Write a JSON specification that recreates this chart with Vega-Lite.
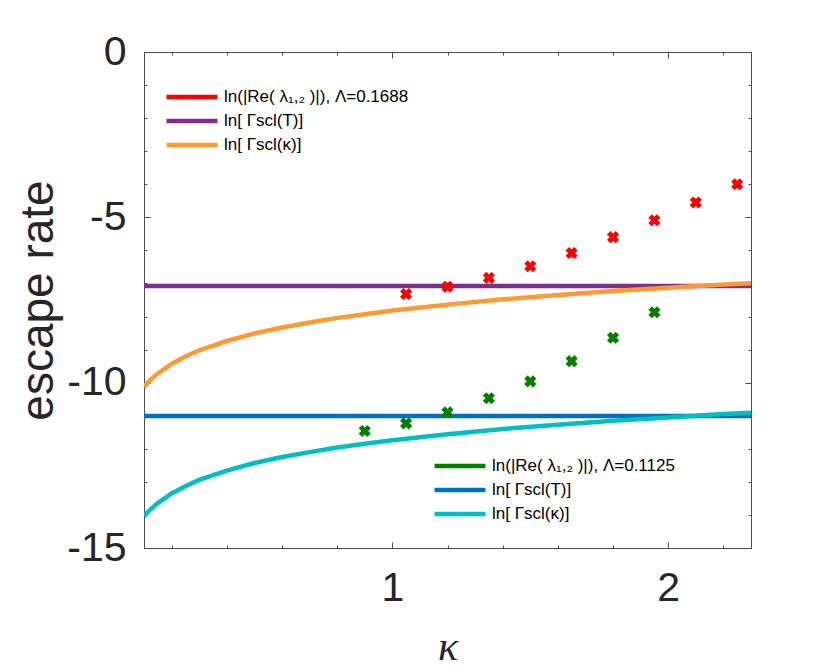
{
  "$schema": "https://vega.github.io/schema/vega-lite/v6.json",
  "width": 607,
  "height": 496,
  "autosize": {"type": "none"},
  "padding": {"left": 144, "top": 52, "right": 79, "bottom": 124},
  "config": {
    "view": {"stroke": "#4d4d4d", "strokeWidth": 1},
    "font": "Liberation Sans",
    "axis": {
      "grid": false,
      "domainColor": "#4d4d4d",
      "tickColor": "#4d4d4d",
      "labelColor": "#262626",
      "titleColor": "#262626",
      "labelFont": "Liberation Sans",
      "titleFont": "Liberation Sans",
      "titleFontWeight": "normal"
    },
    "legend": {
      "symbolType": "M-1,0H5",
      "symbolStrokeWidth": 4.5,
      "symbolSize": 289,
      "labelFontSize": 17,
      "labelFont": "Liberation Sans",
      "labelColor": "#000000",
      "labelLimit": 400,
      "padding": 0,
      "rowPadding": 4,
      "labelOffset": 38
    }
  },
  "layer": [
    {
      "data": {"values": [
        {"kappa": 0.1, "value": -7.08, "series": "ln[ Γscl(T)]"},
        {"kappa": 2.3, "value": -7.08, "series": "ln[ Γscl(T)]"},
        {"kappa": 0.1, "value": -10.12, "series": "ln[ Γscl(κ)]"},
        {"kappa": 0.12, "value": -9.94, "series": "ln[ Γscl(κ)]"},
        {"kappa": 0.15, "value": -9.72, "series": "ln[ Γscl(κ)]"},
        {"kappa": 0.2, "value": -9.43, "series": "ln[ Γscl(κ)]"},
        {"kappa": 0.25, "value": -9.21, "series": "ln[ Γscl(κ)]"},
        {"kappa": 0.3, "value": -9.02, "series": "ln[ Γscl(κ)]"},
        {"kappa": 0.4, "value": -8.74, "series": "ln[ Γscl(κ)]"},
        {"kappa": 0.5, "value": -8.51, "series": "ln[ Γscl(κ)]"},
        {"kappa": 0.6, "value": -8.33, "series": "ln[ Γscl(κ)]"},
        {"kappa": 0.7, "value": -8.18, "series": "ln[ Γscl(κ)]"},
        {"kappa": 0.8, "value": -8.04, "series": "ln[ Γscl(κ)]"},
        {"kappa": 0.9, "value": -7.93, "series": "ln[ Γscl(κ)]"},
        {"kappa": 1.0, "value": -7.82, "series": "ln[ Γscl(κ)]"},
        {"kappa": 1.2, "value": -7.64, "series": "ln[ Γscl(κ)]"},
        {"kappa": 1.4, "value": -7.48, "series": "ln[ Γscl(κ)]"},
        {"kappa": 1.6, "value": -7.35, "series": "ln[ Γscl(κ)]"},
        {"kappa": 1.8, "value": -7.23, "series": "ln[ Γscl(κ)]"},
        {"kappa": 2.0, "value": -7.13, "series": "ln[ Γscl(κ)]"},
        {"kappa": 2.2, "value": -7.03, "series": "ln[ Γscl(κ)]"},
        {"kappa": 2.3, "value": -6.99, "series": "ln[ Γscl(κ)]"}
      ]},
      "mark": {"type": "line", "strokeWidth": 4.5, "clip": true},
      "encoding": {
        "x": {
          "field": "kappa", "type": "quantitative",
          "scale": {"domain": [0.1, 2.3], "nice": false, "zero": false},
          "axis": {"orient": "bottom", "values": [1, 2], "tickSize": -6, "labelFontSize": 41, "labelPadding": 26, "title": "κ", "titleFont": "Liberation Serif", "titleFontSize": 42, "titleFontStyle": "italic", "titlePadding": 18}
        },
        "y": {
          "field": "value", "type": "quantitative",
          "scale": {"domain": [-15, 0], "nice": false, "zero": false},
          "axis": {"orient": "left", "values": [0, -5, -10, -15], "tickSize": -6, "labelFontSize": 41, "labelPadding": 24, "labelExpr": "replace(datum.label, '−', '-')", "title": "escape rate", "titleFontSize": 46, "titlePadding": 4}
        },
        "color": {
          "field": "series", "type": "nominal",
          "scale": {
            "domain": ["ln(|Re( λ₁,₂ )|),  Λ=0.1688", "ln[ Γscl(T)]", "ln[ Γscl(κ)]"],
            "range": ["#ff0000", "#7e2f8e", "#ff9933"]
          },
          "legend": {"orient": "none", "legendX": 20, "legendY": 34, "title": null}
        }
      }
    },
    {
      "data": {"values": [
        {"kappa": 1.05, "value": -7.32},
        {"kappa": 1.2, "value": -7.10},
        {"kappa": 1.35, "value": -6.83},
        {"kappa": 1.5, "value": -6.48},
        {"kappa": 1.65, "value": -6.08},
        {"kappa": 1.8, "value": -5.60},
        {"kappa": 1.95, "value": -5.09},
        {"kappa": 2.1, "value": -4.55},
        {"kappa": 2.25, "value": -4.00}
      ]},
      "mark": {"type": "point", "shape": "cross", "angle": 45, "filled": true, "size": 150, "color": "#ff0000", "opacity": 1},
      "encoding": {
        "x": {
          "field": "kappa", "type": "quantitative",
          "scale": {"domain": [0.1, 2.3], "nice": false, "zero": false},
          "axis": {"orient": "bottom", "values": [0.2, 0.4, 0.6, 0.8, 1.2, 1.4, 1.6, 1.8, 2.2], "tickSize": -3, "labels": false, "domain": false, "title": null}
        },
        "y": {
          "field": "value", "type": "quantitative",
          "scale": {"domain": [-15, 0], "nice": false, "zero": false},
          "axis": {"orient": "left", "values": [-1, -2, -3, -4, -6, -7, -8, -9, -11, -12, -13, -14], "tickSize": -3, "labels": false, "domain": false, "title": null}
        }
      }
    },
    {
      "data": {"values": [
        {"kappa": 0.1, "value": -11.01, "series": "ln[ Γscl(T)]"},
        {"kappa": 2.3, "value": -11.01, "series": "ln[ Γscl(T)]"},
        {"kappa": 0.1, "value": -14.04, "series": "ln[ Γscl(κ)]"},
        {"kappa": 0.12, "value": -13.86, "series": "ln[ Γscl(κ)]"},
        {"kappa": 0.15, "value": -13.64, "series": "ln[ Γscl(κ)]"},
        {"kappa": 0.2, "value": -13.35, "series": "ln[ Γscl(κ)]"},
        {"kappa": 0.25, "value": -13.13, "series": "ln[ Γscl(κ)]"},
        {"kappa": 0.3, "value": -12.94, "series": "ln[ Γscl(κ)]"},
        {"kappa": 0.4, "value": -12.66, "series": "ln[ Γscl(κ)]"},
        {"kappa": 0.5, "value": -12.43, "series": "ln[ Γscl(κ)]"},
        {"kappa": 0.6, "value": -12.25, "series": "ln[ Γscl(κ)]"},
        {"kappa": 0.7, "value": -12.10, "series": "ln[ Γscl(κ)]"},
        {"kappa": 0.8, "value": -11.96, "series": "ln[ Γscl(κ)]"},
        {"kappa": 0.9, "value": -11.85, "series": "ln[ Γscl(κ)]"},
        {"kappa": 1.0, "value": -11.74, "series": "ln[ Γscl(κ)]"},
        {"kappa": 1.2, "value": -11.56, "series": "ln[ Γscl(κ)]"},
        {"kappa": 1.4, "value": -11.40, "series": "ln[ Γscl(κ)]"},
        {"kappa": 1.6, "value": -11.27, "series": "ln[ Γscl(κ)]"},
        {"kappa": 1.8, "value": -11.15, "series": "ln[ Γscl(κ)]"},
        {"kappa": 2.0, "value": -11.05, "series": "ln[ Γscl(κ)]"},
        {"kappa": 2.2, "value": -10.95, "series": "ln[ Γscl(κ)]"},
        {"kappa": 2.3, "value": -10.91, "series": "ln[ Γscl(κ)]"}
      ]},
      "mark": {"type": "line", "strokeWidth": 4.5, "clip": true},
      "encoding": {
        "x": {
          "field": "kappa", "type": "quantitative",
          "scale": {"domain": [0.1, 2.3], "nice": false, "zero": false},
          "axis": {"orient": "top", "values": [1, 2], "tickSize": -6, "labels": false, "title": null}
        },
        "y": {
          "field": "value", "type": "quantitative",
          "scale": {"domain": [-15, 0], "nice": false, "zero": false},
          "axis": {"orient": "right", "values": [0, -5, -10, -15], "tickSize": -6, "labels": false, "title": null}
        },
        "color": {
          "field": "series", "type": "nominal",
          "scale": {
            "domain": ["ln(|Re( λ₁,₂ )|),  Λ=0.1125", "ln[ Γscl(T)]", "ln[ Γscl(κ)]"],
            "range": ["#008000", "#0072bd", "#00bfbf"]
          },
          "legend": {"orient": "none", "legendX": 288, "legendY": 403, "title": null}
        }
      }
    },
    {
      "data": {"values": [
        {"kappa": 0.9, "value": -11.46},
        {"kappa": 1.05, "value": -11.23},
        {"kappa": 1.2, "value": -10.90},
        {"kappa": 1.35, "value": -10.47},
        {"kappa": 1.5, "value": -9.96},
        {"kappa": 1.65, "value": -9.35},
        {"kappa": 1.8, "value": -8.64},
        {"kappa": 1.95, "value": -7.87}
      ]},
      "mark": {"type": "point", "shape": "cross", "angle": 45, "filled": true, "size": 150, "color": "#008000", "opacity": 1},
      "encoding": {
        "x": {
          "field": "kappa", "type": "quantitative",
          "scale": {"domain": [0.1, 2.3], "nice": false, "zero": false},
          "axis": {"orient": "top", "values": [0.2, 0.4, 0.6, 0.8, 1.2, 1.4, 1.6, 1.8, 2.2], "tickSize": -3, "labels": false, "domain": false, "title": null}
        },
        "y": {
          "field": "value", "type": "quantitative",
          "scale": {"domain": [-15, 0], "nice": false, "zero": false},
          "axis": {"orient": "right", "values": [-1, -2, -3, -4, -6, -7, -8, -9, -11, -12, -13, -14], "tickSize": -3, "labels": false, "domain": false, "title": null}
        }
      }
    }
  ],
  "resolve": {
    "scale": {"color": "independent"},
    "axis": {"x": "independent", "y": "independent"}
  }
}
